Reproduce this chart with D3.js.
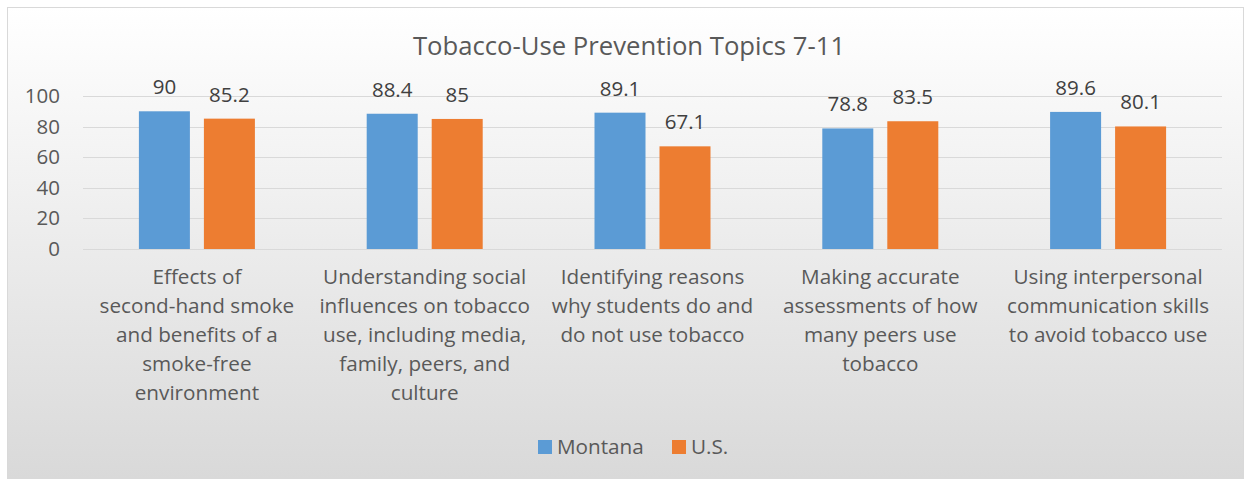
<!DOCTYPE html>
<html>
<head>
<meta charset="utf-8">
<style>
  body { margin: 0; background: #fff; }
  text { font-family: "Open Sans", sans-serif; }
</style>
<script src="https://cdn.jsdelivr.net/npm/d3@7"></script>
</head>
<body>
<svg width="1250" height="482"></svg>
<script>
// chart data
var topics = [
  ["Effects of", "second-hand smoke", "and benefits of a", "smoke-free", "environment"],
  ["Understanding social", "influences on tobacco", "use, including media,", "family, peers, and", "culture"],
  ["Identifying reasons", "why students do and", "do not use tobacco"],
  ["Making accurate", "assessments of how", "many peers use", "tobacco"],
  ["Using interpersonal", "communication skills", "to avoid tobacco use"]
];
var montana = [90, 88.4, 89.1, 78.8, 89.6];
var us = [85.2, 85, 67.1, 83.5, 80.1];
var seriesNames = ["Montana", "U.S."];
var colors = ["#5B9BD5", "#ED7D31"];
var yTicks = [0, 20, 40, 60, 80, 100];

var svg = d3.select("svg");

// background with soft vertical gradient
var grad = svg.append("defs").append("linearGradient")
  .attr("id", "bg").attr("x1", 0).attr("y1", 0).attr("x2", 0).attr("y2", 1);
grad.append("stop").attr("offset", "0%").attr("stop-color", "#ffffff");
grad.append("stop").attr("offset", "100%").attr("stop-color", "#d9d9d9");

svg.append("rect")
  .attr("x", 7.5).attr("y", 7.5).attr("width", 1236).attr("height", 471)
  .attr("fill", "url(#bg)").attr("stroke", "#d9d9d9");

var plotLeft = 83, plotRight = 1222, plotTop = 96, plotBottom = 249;

var x = d3.scaleBand().domain(d3.range(topics.length)).range([plotLeft, plotRight]);
// two bars per cluster, 51px wide with a 14px gap
var x1 = d3.scaleBand().domain([0, 1]).range([0, 116]).paddingInner(14 / 65);
var y = d3.scaleLinear().domain([0, 100]).range([plotBottom, plotTop]);

// title
svg.append("text")
  .attr("x", 629).attr("y", 55)
  .attr("text-anchor", "middle")
  .attr("font-size", 25.7)
  .attr("fill", "#595959")
  .text("Tobacco-Use Prevention Topics 7-11");

// gridlines
svg.append("g").selectAll("line")
  .data(yTicks).enter().append("line")
  .attr("x1", plotLeft).attr("x2", plotRight)
  .attr("y1", function (d) { return Math.round(y(d)) + 0.5; })
  .attr("y2", function (d) { return Math.round(y(d)) + 0.5; })
  .attr("stroke", "#d9d9d9").attr("stroke-width", 1);

// y axis labels
var yAxis = svg.append("g")
  .attr("transform", "translate(" + plotLeft + ",0)")
  .call(d3.axisLeft(y).tickValues(yTicks).tickSize(0).tickPadding(23));
yAxis.select(".domain").remove();
yAxis.selectAll("text")
  .attr("font-family", "Open Sans, sans-serif")
  .attr("font-size", 20.5)
  .attr("fill", "#595959");

// bars
var data = topics.map(function (t, i) { return [montana[i], us[i]]; });
var groups = svg.append("g").selectAll("g")
  .data(data).enter().append("g")
  .attr("transform", function (d, i) {
    return "translate(" + (x(i) + x.bandwidth() / 2 - 58) + ",0)";
  });

groups.selectAll("rect")
  .data(function (d) { return d; }).enter().append("rect")
  .attr("x", function (d, j) { return x1(j); })
  .attr("width", x1.bandwidth())
  .attr("y", function (d) { return y(d); })
  .attr("height", function (d) { return y(0) - y(d); })
  .attr("fill", function (d, j) { return colors[j]; });

// value labels
groups.selectAll("text")
  .data(function (d) { return d; }).enter().append("text")
  .attr("x", function (d, j) { return x1(j) + x1.bandwidth() / 2; })
  .attr("y", function (d) { return y(d) - 17; })
  .attr("text-anchor", "middle")
  .attr("font-size", 20.5)
  .attr("fill", "#404040")
  .text(function (d) { return d; });

// category labels
var cats = svg.append("g").selectAll("text")
  .data(topics).enter().append("text")
  .attr("text-anchor", "middle")
  .attr("font-size", 20.7)
  .attr("fill", "#595959");
cats.selectAll("tspan")
  .data(function (d, i) { return d.map(function (s) { return { s: s, i: i }; }); })
  .enter().append("tspan")
  .attr("x", function (d) { return x(d.i) + x.bandwidth() / 2; })
  .attr("y", function (d, k) { return 284 + k * 29; })
  .text(function (d) { return d.s; });

// legend
var legend = svg.append("g");
var legX = [538, 672];
seriesNames.forEach(function (name, j) {
  legend.append("rect")
    .attr("x", legX[j]).attr("y", 440).attr("width", 14).attr("height", 14)
    .attr("fill", colors[j]);
  legend.append("text")
    .attr("x", legX[j] + 19).attr("y", 454)
    .attr("font-size", 20.7)
    .attr("fill", "#595959")
    .text(name);
});
</script>
</body>
</html>
